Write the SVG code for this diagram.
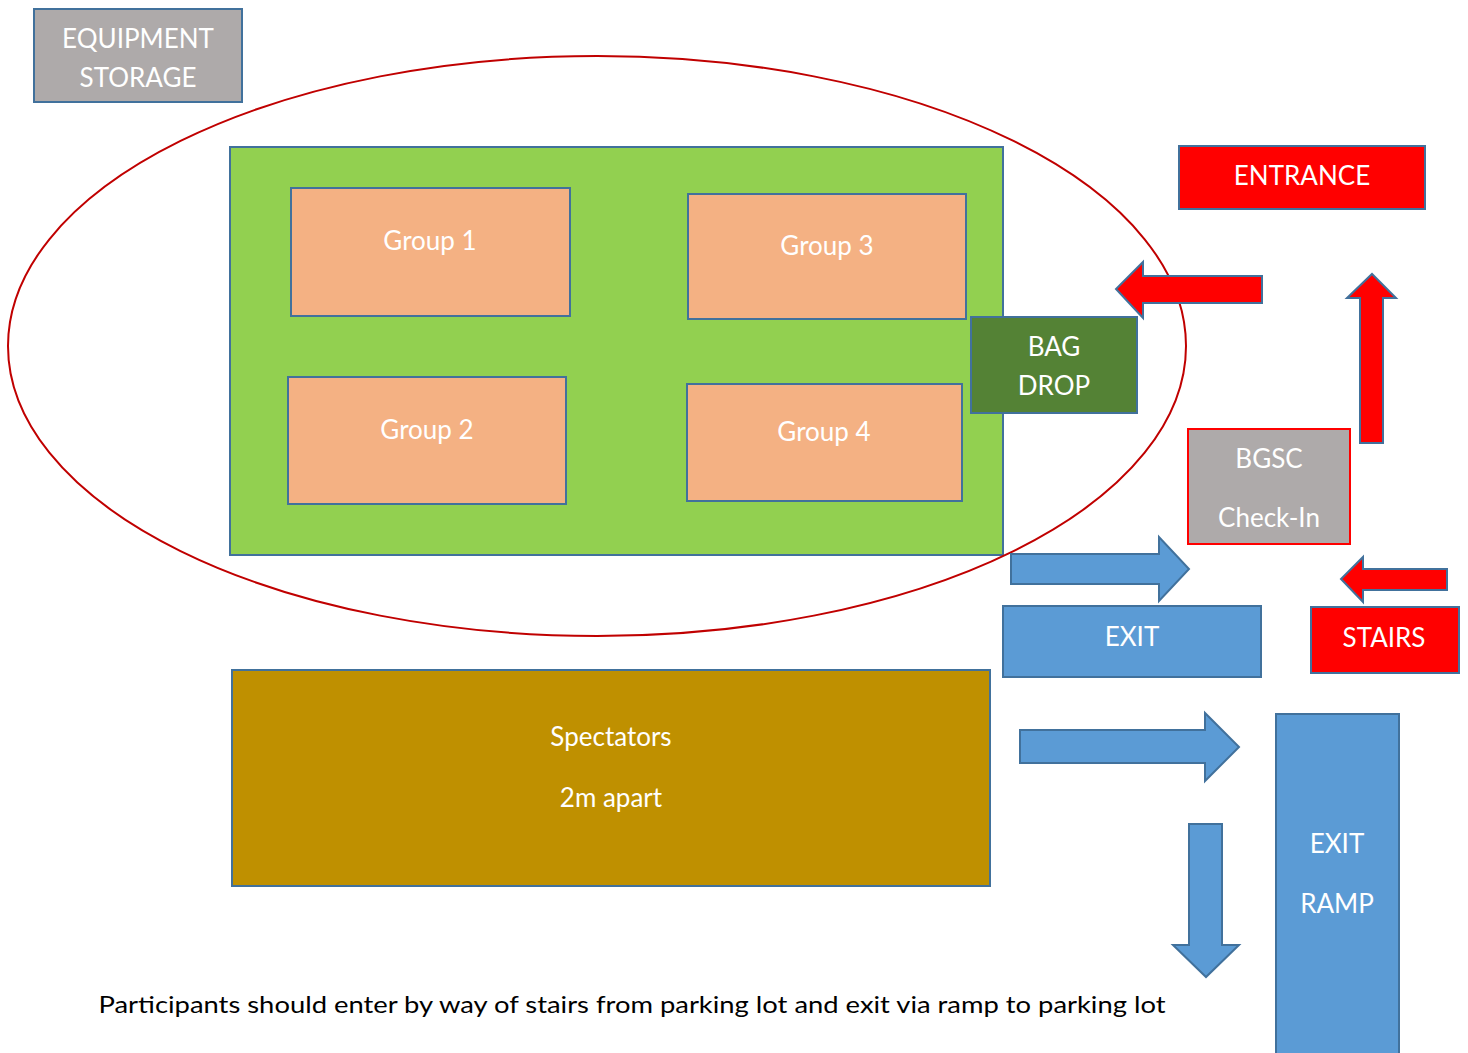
<svg xmlns="http://www.w3.org/2000/svg" width="1468" height="1053" viewBox="0 0 1468 1053">
<style>
.box{stroke:#41719C;stroke-width:2}
.lbl{font-family:Lato,"Liberation Sans",sans-serif;font-size:26px;fill:#FFFFFF;text-anchor:middle}
.grp{fill:#F4B183}
.gray{fill:#AEAAAA}
.red{fill:#FF0000}
.blue{fill:#5B9BD5}
.arr{stroke:#41719C;stroke-width:2;stroke-linejoin:miter}
</style>
<rect width="1468" height="1053" fill="#FFFFFF"/>
<g id="equipment-storage">
<rect class="box gray" x="34" y="9" width="208" height="93"/>
<text class="lbl" x="138" y="48">EQUIPMENT</text>
<text class="lbl" x="138" y="87">STORAGE</text>
</g>
<g id="field">
<rect class="box" fill="#92D050" x="230" y="147" width="773" height="408"/>
</g>
<g id="group1">
<rect class="box grp" x="291" y="188" width="279" height="128"/>
<text class="lbl" x="430" y="250">Group 1</text>
</g>
<g id="group3">
<rect class="box grp" x="688" y="194" width="278" height="125"/>
<text class="lbl" x="827" y="255">Group 3</text>
</g>
<g id="group2">
<rect class="box grp" x="288" y="377" width="278" height="127"/>
<text class="lbl" x="427" y="439">Group 2</text>
</g>
<g id="group4">
<rect class="box grp" x="687" y="384" width="275" height="117"/>
<text class="lbl" x="824" y="441">Group 4</text>
</g>
<g id="bag-drop">
<rect class="box" fill="#548235" x="971" y="317" width="166" height="96"/>
<text class="lbl" x="1054" y="356">BAG</text>
<text class="lbl" x="1054" y="395">DROP</text>
</g>
<g id="entrance">
<rect class="box red" x="1179" y="146" width="246" height="63"/>
<text class="lbl" x="1302" y="185">ENTRANCE</text>
</g>
<g id="bgsc-checkin">
<rect class="gray" stroke="#FF0000" stroke-width="2" x="1188" y="429" width="162" height="115"/>
<text class="lbl" x="1269" y="468">BGSC</text>
<text class="lbl" x="1269" y="527">Check-In</text>
</g>
<g id="exit">
<rect class="box blue" x="1003" y="606" width="258" height="71"/>
<text class="lbl" x="1132" y="646">EXIT</text>
</g>
<g id="stairs">
<rect class="box red" x="1311" y="607" width="148" height="66"/>
<text class="lbl" x="1384" y="647">STAIRS</text>
</g>
<g id="spectators">
<rect class="box" fill="#BF9000" x="232" y="670" width="758" height="216"/>
<text class="lbl" x="611" y="746">Spectators</text>
<text class="lbl" x="611" y="807">2m apart</text>
</g>
<g id="exit-ramp">
<rect class="box blue" x="1276" y="714" width="123" height="345"/>
<text class="lbl" x="1337" y="853">EXIT</text>
<text class="lbl" x="1337" y="913">RAMP</text>
</g>
<g id="zone">
<ellipse cx="597" cy="346" rx="589" ry="290" fill="none" stroke="#C00000" stroke-width="2"/>
</g>
<g id="connectors">
<polygon class="arr red" points="1262,276 1143,276 1143,262 1116,289 1143,318 1143,303 1262,303"/>
<polygon class="arr red" points="1360,443 1360,298 1347,298 1372,274 1396,298 1383,298 1383,443"/>
<polygon class="arr blue" points="1011,554 1159,554 1159,537 1189,569 1159,601 1159,584 1011,584"/>
<polygon class="arr red" points="1447,569 1363,569 1363,557 1341,579 1363,602 1363,590 1447,590"/>
<polygon class="arr blue" points="1020,730 1205,730 1205,713 1239,747 1205,781 1205,763 1020,763"/>
<polygon class="arr blue" points="1189,824 1222,824 1222,945 1239,945 1206,977 1173,945 1189,945"/>
</g>
<g id="note">
<text x="632" y="1013" font-family="Lato,'Liberation Sans',sans-serif" font-size="24" fill="#000000" text-anchor="middle" textLength="1067" lengthAdjust="spacingAndGlyphs">Participants should enter by way of stairs from parking lot and exit via ramp to parking lot</text>
</g>
</svg>
